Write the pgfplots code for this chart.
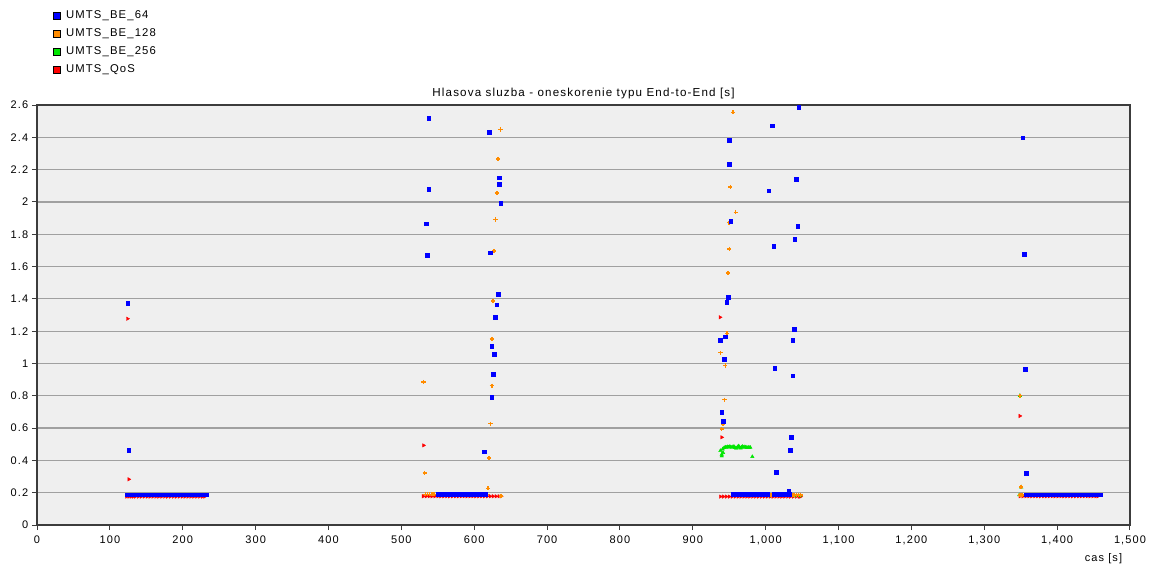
\documentclass[border=0pt]{standalone}
\usepackage{fontspec}
\setmainfont{Liberation Sans}[LetterSpace=10]
\usepackage{pgfplots}
\pgfplotsset{compat=1.18}
\definecolor{cblue}{RGB}{0,0,255}
\definecolor{corange}{RGB}{255,140,0}
\definecolor{cgreen}{RGB}{0,230,0}
\definecolor{cred}{RGB}{255,0,0}
\definecolor{cgrid}{RGB}{160,160,160}
\definecolor{caxis}{RGB}{60,60,60}
\definecolor{cbg}{RGB}{239,239,239}
\begin{document}
\fontsize{11}{13}\selectfont
\begin{tikzpicture}[x=1pt,y=1pt]
\begin{axis}[
  at={(37pt,-525pt)}, anchor=south west,
  width=1093pt, height=420pt, scale only axis,
  xmin=0, xmax=1500, ymin=0, ymax=2.6,
  xtick={0,100,200,300,400,500,600,700,800,900,1000,1100,1200,1300,1400,1500},
  ytick={0,0.2,0.4,0.6,0.8,1,1.2,1.4,1.6,1.8,2,2.2,2.4,2.6},
  /pgf/number format/.cd, 1000 sep={,}, assume math mode=true, /pgfplots/.cd,
  tick pos=left, tick align=outside, major tick length=5pt,
  major tick style={caxis, line width=1pt},
  axis line style={caxis, line width=1.2pt},
  ymajorgrids=true,
  major grid style={cgrid, line width=1.2pt},
  axis background/.style={fill=cbg},
  tick label style={font=\fontsize{11}{13}\selectfont},
  xticklabel style={yshift=-2pt},
  title={Hlasova sluzba - oneskorenie typu End-to-End [s]},
  title style={at={(axis description cs:0.5,1)}, anchor=south, yshift=-4pt, font=\fontsize{11.6}{13}\selectfont},
  xlabel={cas [s]},
  xlabel style={at={(axis description cs:1,0)}, anchor=north east, yshift=-25pt, xshift=-4pt, font=\fontsize{11}{13}\selectfont},
  reverse legend,
  legend cell align=left,
  legend style={at={(axis description cs:0.012,1.233)}, anchor=north west, draw=none, fill=none,
    row sep=5.5pt, font=\fontsize{11.3}{13}\selectfont, nodes={inner sep=1.5pt}},
]
% ---------------- UMTS_QoS (red)
\addplot[only marks, mark=triangle*, mark size=2pt, mark options={rotate=-90, draw=cred, fill=cred},
  legend image code/.code={\draw[black, fill=cred, line width=0.6pt] (0pt,-3.5pt) rectangle (7pt,3.5pt); \path[draw=none, fill=none] (0pt,-0.1pt) rectangle (11pt,0.1pt);}]
coordinates {
(124.2,1.277) (126,0.283)
(123,0.176) (126,0.176) (129,0.176) (132,0.176) (135,0.176) (139,0.176) (143,0.176) (147,0.176) (151,0.176) (155,0.176) (159,0.176) (163,0.176) (167,0.176) (171,0.176) (175,0.176) (179,0.176) (183,0.176) (187,0.176) (191,0.176) (195,0.176) (199,0.176) (203,0.176) (207,0.176) (211,0.176) (215,0.176) (219,0.176) (223,0.176) (227,0.176) (230,0.176)
(530.5,0.493)
(530,0.178) (534,0.178) (538,0.178) (542,0.178) (546,0.178) (550,0.178) (554,0.178) (558,0.178) (562,0.178) (566,0.178) (570,0.178) (574,0.178) (578,0.178) (582,0.178) (586,0.178) (590,0.178) (594,0.178) (598,0.178) (602,0.178) (606,0.178) (610,0.178) (614,0.178) (618,0.178) (622,0.178) (626,0.178) (630,0.178) (634,0.178) (637,0.178)
(937.4,1.286) (939.7,0.543)
(938,0.176) (942,0.176) (946,0.176) (950,0.176) (954,0.176) (958,0.176) (962,0.176) (966,0.176) (970,0.176) (974,0.176) (978,0.176) (982,0.176) (986,0.176) (990,0.176) (994,0.176) (998,0.176) (1002,0.176) (1006,0.176) (1010,0.176) (1014,0.176) (1018,0.176) (1022,0.176) (1026,0.176) (1030,0.176) (1034,0.176) (1038,0.176) (1042,0.176) (1046,0.176) (1048,0.176)
(1348.9,0.675)
(1349,0.178) (1353,0.178) (1357,0.178) (1361,0.178) (1365,0.178) (1369,0.178) (1373,0.178) (1377,0.178) (1381,0.178) (1385,0.178) (1389,0.178) (1393,0.178) (1397,0.178) (1401,0.178) (1405,0.178) (1409,0.178) (1413,0.178) (1417,0.178) (1421,0.178) (1425,0.178) (1429,0.178) (1433,0.178) (1437,0.178) (1441,0.178) (1445,0.178) (1449,0.178) (1453,0.178) (1456,0.178)
};
\addlegendentry{UMTS\_QoS}
% ---------------- UMTS_BE_256 (green)
\addplot[only marks, mark=triangle*, mark size=2pt, mark options={draw=cgreen, fill=cgreen},
  legend image code/.code={\draw[black, fill=cgreen, line width=0.6pt] (0pt,-3.5pt) rectangle (7pt,3.5pt); \path[draw=none, fill=none] (0pt,-0.1pt) rectangle (11pt,0.1pt);}]
coordinates {
(937.9,0.460) (939.7,0.437) (941.5,0.448) (939.7,0.427) (941,0.470)
(943,0.478) (944.5,0.482) (946,0.480) (947.5,0.484) (949,0.482) (950.5,0.485) (952,0.483) (953.5,0.480) (955,0.484) (956.5,0.486) (958,0.478) (959.5,0.475) (961,0.480) (962.5,0.489) (964,0.484) (965.5,0.476) (967,0.482) (968.5,0.486) (970,0.480) (971.5,0.484) (973,0.482) (974.5,0.478) (976,0.481) (977.5,0.479) (979,0.480)
(981.7,0.423)
(1005,0.180) (1009,0.185) (1040,0.180) (1047,0.180)
(1348.9,0.801) (1350.7,0.235) (1348,0.186)
};
\addlegendentry{UMTS\_BE\_256}
% ---------------- UMTS_BE_128 (orange)
\addplot[only marks, mark=+, mark size=2.1pt, mark options={corange, line width=1.5pt},
  legend image code/.code={\draw[black, fill=corange, line width=0.6pt] (0pt,-3.5pt) rectangle (7pt,3.5pt); \path[draw=none, fill=none] (0pt,-0.1pt) rectangle (11pt,0.1pt);}]
coordinates {
(636,2.448) (632.9,2.266) (631,2.054) (629.2,1.891) (627.4,1.695) (626,1.387) (624.2,1.152) (530.5,0.885) (624.2,0.863) (622.3,0.627) (620.5,0.415) (532,0.322) (618.8,0.227)
(533,0.190) (536,0.190) (539,0.190) (542,0.190) (545,0.190) (548,0.190) (551,0.190) (615,0.190) (617,0.190) (637,0.180)
(955.2,2.555) (951.6,2.093) (958.9,1.936) (949.8,1.872) (950.2,1.709) (948.4,1.560) (946.6,1.185) (937.9,1.067) (944.7,0.987) (943.4,0.776) (941.5,0.625) (939.7,0.594)
(1004,0.185) (1007,0.185) (1010,0.185) (1033,0.185) (1036,0.185) (1039,0.185) (1042,0.185) (1045,0.185) (1048,0.185)
(1348.9,0.801) (1350.7,0.235)
(1349,0.186) (1352,0.186) (1355,0.186) (1357,0.186)
};
\addlegendentry{UMTS\_BE\_128}
% ---------------- UMTS_BE_64 (blue)
\addplot[only marks, mark=square*, mark size=1.8pt, mark options={draw=cblue, fill=cblue},
  legend image code/.code={\draw[black, fill=cblue, line width=0.6pt] (0pt,-3.5pt) rectangle (7pt,3.5pt); \path[draw=none, fill=none] (0pt,-0.1pt) rectangle (11pt,0.1pt);}]
coordinates {
(124.2,1.373) (126,0.462)
(124,0.188) (128,0.188) (132,0.188) (136,0.188) (140,0.188) (144,0.188) (148,0.188) (152,0.188) (156,0.188) (160,0.188) (164,0.188) (168,0.188) (172,0.188) (176,0.188) (180,0.188) (184,0.188) (188,0.188) (192,0.188) (196,0.188) (200,0.188) (204,0.188) (208,0.188) (212,0.188) (216,0.188) (220,0.188) (224,0.188) (228,0.188) (232,0.188) (233,0.188)
(537.4,2.518) (620.5,2.431) (634.7,2.149) (634.7,2.110) (537.4,2.079) (636.5,1.992) (533.8,1.866) (622.3,1.686) (535.6,1.670) (632.9,1.429) (631,1.364) (629.2,1.286) (624.2,1.106) (627.4,1.059) (626,0.933) (624.2,0.791) (613.7,0.454)
(551,0.190) (555,0.190) (559,0.190) (563,0.190) (567,0.190) (571,0.190) (575,0.190) (579,0.190) (583,0.190) (587,0.190) (591,0.190) (595,0.190) (599,0.190) (603,0.190) (607,0.190) (611,0.190) (615,0.190)
(1045.6,2.588) (1009.2,2.471) (949.8,2.384) (949.8,2.235) (1042,2.141) (1004.1,2.070) (952,1.880) (1043.8,1.850) (1040.1,1.771) (1011,1.726) (948.4,1.410) (946.6,1.379) (1038.8,1.214) (944.7,1.166) (937.9,1.144) (1037,1.144) (943.4,1.026) (1012.3,0.972) (1037,0.925) (939.7,0.698) (941.5,0.642) (1035.2,0.543) (1033.3,0.462) (1014.2,0.328) (1031.5,0.211)
(955,0.190) (959,0.190) (963,0.190) (967,0.190) (971,0.190) (975,0.190) (979,0.190) (983,0.190) (987,0.190) (991,0.190) (995,0.190) (999,0.190) (1003,0.190)
(1012,0.190) (1016,0.190) (1020,0.190) (1024,0.190) (1028,0.190) (1032,0.190) (1033,0.190)
(1352.5,2.398) (1354.4,1.678) (1356.2,0.964) (1357.9,0.320)
(1357,0.188) (1361,0.188) (1365,0.188) (1369,0.188) (1373,0.188) (1377,0.188) (1381,0.188) (1385,0.188) (1389,0.188) (1393,0.188) (1397,0.188) (1401,0.188) (1405,0.188) (1409,0.188) (1413,0.188) (1417,0.188) (1421,0.188) (1425,0.188) (1429,0.188) (1433,0.188) (1437,0.188) (1441,0.188) (1445,0.188) (1449,0.188) (1453,0.188) (1457,0.188) (1459,0.188)
};
\addlegendentry{UMTS\_BE\_64}
\end{axis}
\pgfresetboundingbox
\path[use as bounding box] (0pt,0pt) rectangle (1156pt,-566pt);
\end{tikzpicture}
\end{document}
